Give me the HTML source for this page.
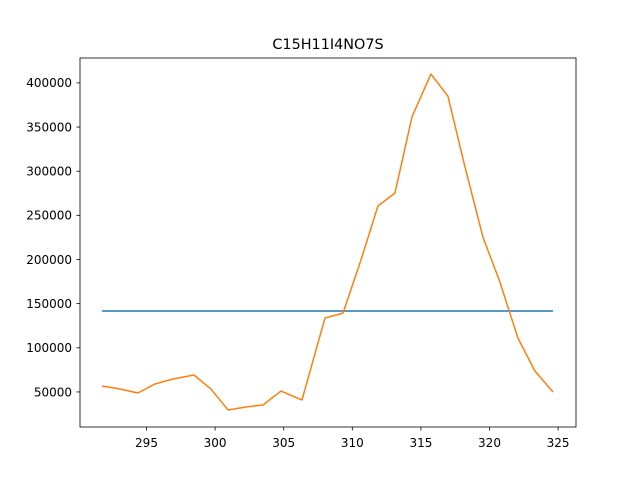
<!DOCTYPE html>
<html><head><meta charset="utf-8"><style>
body{margin:0;background:#fff;}
svg text{font-family:"DejaVu Sans","Liberation Sans",sans-serif;}
</style></head><body>
<svg id="chart" width="640" height="480" xmlns="http://www.w3.org/2000/svg">
<rect width="640" height="480" fill="#fff"/>
<text x="328" y="49" text-anchor="middle" font-size="14.4">C15H11I4NO7S</text>
<g id="plot"></g>
<rect x="80" y="58" width="496" height="369" fill="none" stroke="#000" stroke-width="0.8"/>
</svg>
<script>
const xVals=[291.76,293.07,294.38,295.62,296.93,298.46,299.70,300.94,302.25,303.49,304.80,306.33,308.01,309.32,310.56,311.87,313.11,314.35,315.73,316.97,318.21,319.52,320.76,322.07,323.31,324.63];
const yVals=[56700,53300,48800,59000,64700,69200,53300,29600,33000,35200,51000,40900,133700,139300,196000,260600,275300,361400,410000,385000,305000,225500,174500,111100,73700,49900];
const meanVal=[141700];
const xTicks=[295,300,305,310,315,320,325];
const yTicks=[50000,100000,150000,200000,250000,300000,350000,400000];
const X=v=>146.5+(v-295)*13.72;
const Y=v=>436.1-v*0.000883;
const NS="http://www.w3.org/2000/svg";
const g=document.getElementById('plot');
function el(t,a){const e=document.createElementNS(NS,t);for(const k in a)e.setAttribute(k,a[k]);g.appendChild(e);return e;}
xTicks.forEach(t=>{
 const l=el('line',{x1:X(t),x2:X(t),y1:427,y2:430.5,stroke:'#000','stroke-width':0.8});
 
 
 const tx=el('text',{x:X(t),y:447,'text-anchor':'middle','font-size':12});
 tx.textContent=t;
 
 
});
yTicks.forEach(t=>{
 const l=el('line',{x1:76.5,x2:80,y1:Y(t),y2:Y(t),stroke:'#000','stroke-width':0.8});
 
 
 const tx=el('text',{x:72,y:Y(t)+4.3,'text-anchor':'end','font-size':12});
 tx.textContent=t;
 
 
});
const m=el('line',{x1:X(xVals[0]),x2:X(xVals[xVals.length-1]),y1:Y(meanVal[0]),y2:Y(meanVal[0]),stroke:'#1f77b4','stroke-width':1.5});


const p=el('polyline',{points:xVals.map((x,i)=>X(x)+','+Y(yVals[i])).join(' '),fill:'none',stroke:'#ff7f0e','stroke-width':1.5,'stroke-linejoin':'round'});


</script>
</body></html>
